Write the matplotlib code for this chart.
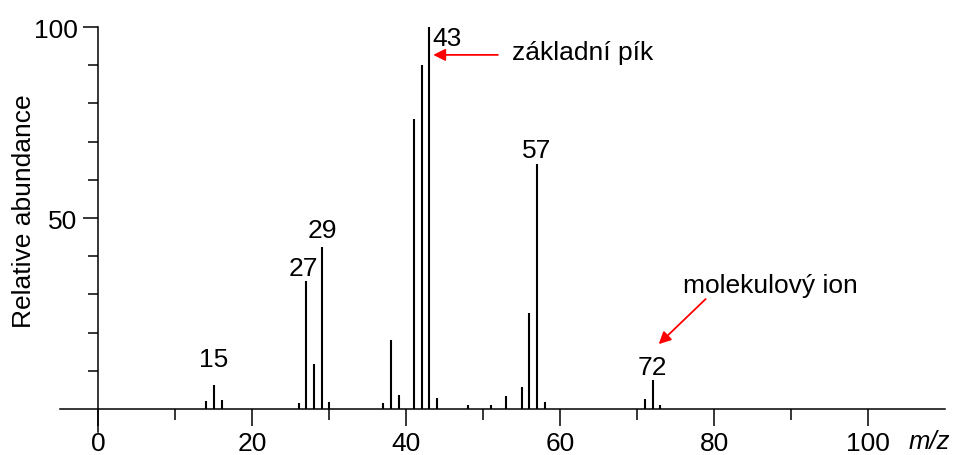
import matplotlib
matplotlib.use("Agg")
import matplotlib.pyplot as plt
from matplotlib.ticker import FixedLocator

plt.rcParams['font.family'] = ['Liberation Sans', 'DejaVu Sans']

# Mass spectrum: m/z values and relative abundances
mz = [14, 15, 16, 26, 27, 28, 29, 30, 37, 38, 39, 41, 42, 43, 44,
      48, 51, 53, 55, 56, 57, 58, 71, 72, 73]
abundance = [2.1, 6.3, 2.4, 1.6, 33.4, 11.8, 42.4, 1.9, 1.7, 18.0, 3.6,
             75.9, 90.0, 100.0, 2.8, 1.0, 1.0, 3.3, 5.8, 25.1, 64.1, 1.9,
             2.6, 7.6, 1.0]

labeled_peaks = [15, 27, 29, 43, 57, 72]
x_major = [0, 20, 40, 60, 80, 100]
x_minor = [10, 30, 50, 70, 90]
y_major = [50, 100]
y_minor = [10, 20, 30, 40, 60, 70, 80, 90]

FS = 19

fig = plt.figure(figsize=(9.55, 4.56), dpi=100)
ax = fig.add_axes([60 / 955, 23 / 456, 885 / 955, 405 / 456])
ax.set_xlim(-5, 110)
ax.set_ylim(-6, 100)

# axes drawn as crossing lines through the origin
for side in ('top', 'right'):
    ax.spines[side].set_visible(False)
ax.spines['left'].set_position(('data', 0))
ax.spines['left'].set_bounds(-6, 100)
ax.spines['bottom'].set_position(('data', 0))
ax.spines['bottom'].set_bounds(-5, 110)
for side in ('left', 'bottom'):
    ax.spines[side].set_linewidth(1.1)

ax.xaxis.set_major_locator(FixedLocator(x_major))
ax.xaxis.set_minor_locator(FixedLocator(x_minor))
ax.yaxis.set_major_locator(FixedLocator(y_major))
ax.yaxis.set_minor_locator(FixedLocator(y_minor))
ax.tick_params(axis='x', which='major', direction='out', length=12, width=1.1,
               labelsize=FS, pad=4)
ax.tick_params(axis='x', which='minor', direction='out', length=8, width=1.1)
ax.tick_params(axis='y', which='major', direction='out', length=11, width=1.1,
               labelsize=FS, pad=4)
ax.tick_params(axis='y', which='minor', direction='out', length=7.5, width=1.1)

ax.set_ylabel('Relative abundance', fontsize=FS)
ax.yaxis.set_label_coords(-0.027, 0.548)

# peaks
ax.vlines(mz, 0, abundance, color='black', lw=1.5)

# peak labels
heights = dict(zip(mz, abundance))
offsets = {
    15: ((0, 13.5), 'center'),
    27: ((8.6, 4.3), 'right'),
    29: ((0.5, 7.0), 'center'),
    43: ((2.0, -13.0), 'left'),
    57: ((0, 5.0), 'center'),
    72: ((0, 4.3), 'center'),
}
for m in labeled_peaks:
    (dx, dy), ha = offsets[m]
    ax.annotate(str(m), xy=(m, heights[m]), xytext=(dx, dy),
                textcoords='offset points', ha=ha, va='baseline', fontsize=FS)

# base peak annotation
ax.annotate('', xy=(43.5, 92.7), xytext=(51.9, 92.7),
            arrowprops=dict(arrowstyle='-|>', color='red', lw=1.3,
                            mutation_scale=18, shrinkA=0, shrinkB=0))
ax.text(53.7, 91.6, 'základní pík', ha='left', va='baseline', fontsize=FS)

# molecular ion annotation
ax.annotate('', xy=(72.8, 17.0), xytext=(78.9, 28.8),
            arrowprops=dict(arrowstyle='-|>', color='red', lw=1.3,
                            mutation_scale=18, shrinkA=0, shrinkB=0))
ax.text(75.9, 30.6, 'molekulový ion', ha='left', va='baseline', fontsize=FS)

fig.text(909 / 955, 1.5 / 456, 'm/z', style='italic', ha='left', va='bottom',
         fontsize=18.5)

fig.savefig('out.png', dpi=100)
